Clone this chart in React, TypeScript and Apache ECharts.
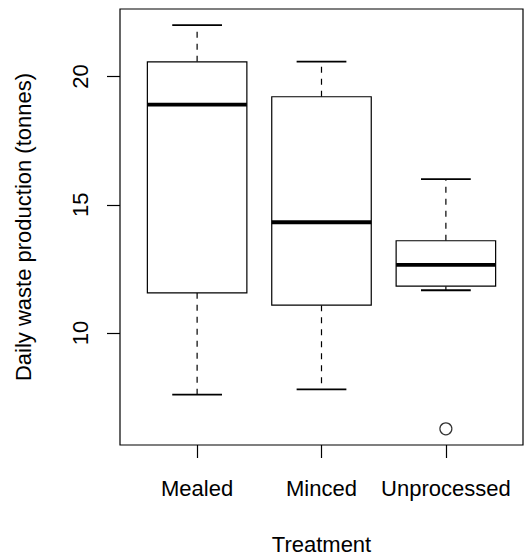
import React, { useEffect, useRef } from "react";
import * as echarts from "echarts";

const categories = ["Mealed", "Minced", "Unprocessed"];
const whiskerLow = [7.6, 7.81, 11.67];
const q1 = [11.57, 11.09, 11.83];
const median = [18.9, 14.32, 12.66];
const q3 = [20.57, 19.21, 13.6];
const whiskerHigh = [22.0, 20.58, 16.0];
const outlierCategory = ["Unprocessed"];
const outlierValue = [6.27];
const yTicks = [10, 15, 20];

const FONT = "'Liberation Sans', Arial, Helvetica, sans-serif";

export default function App() {
  const ref = useRef<HTMLDivElement>(null);
  useEffect(() => {
    document.body.style.margin = "0";
    const chart = echarts.init(ref.current!, null, { renderer: "svg" });
    const boxData = categories.map((c, i) => [
      i + 1,
      whiskerLow[i],
      q1[i],
      median[i],
      q3[i],
      whiskerHigh[i],
    ]);
    const outData = outlierCategory.map((c, i) => [
      categories.indexOf(c) + 1,
      outlierValue[i],
    ]);
    const option: any = {
      animation: false,
      backgroundColor: "#fff",
      grid: {
        left: 120,
        right: 2,
        top: 9,
        bottom: 112,
        show: true,
        borderColor: "#000",
        borderWidth: 1.2,
        backgroundColor: "transparent",
        containLabel: false,
        outerBoundsMode: "none",
      },
      xAxis: {
        type: "value",
        min: 0.38,
        max: 3.62,
        name: "Treatment",
        nameLocation: "middle",
        nameGap: 88,
        nameTextStyle: { fontSize: 22, color: "#000", fontFamily: FONT, lineHeight: 22 },
        axisLine: { show: false },
        splitLine: { show: false },
        axisTick: {
          show: true,
          inside: false,
          length: 13,
          customValues: [1, 2, 3],
          lineStyle: { color: "#000", width: 1.2 },
        },
        axisLabel: {
          customValues: [1, 2, 3],
          formatter: (v: number) => categories[Math.round(v) - 1] ?? "",
          fontSize: 22,
          lineHeight: 22,
          color: "#000",
          fontFamily: FONT,
          margin: 32,
        },
      },
      yAxis: {
        type: "value",
        min: 5.64,
        max: 22.63,
        name: "Daily waste production (tonnes)",
        nameLocation: "middle",
        nameRotate: 90,
        nameGap: 86,
        nameTextStyle: { fontSize: 22, color: "#000", fontFamily: FONT, lineHeight: 22 },
        axisLine: { show: false },
        splitLine: { show: false },
        axisTick: {
          show: true,
          inside: false,
          length: 13,
          customValues: yTicks,
          lineStyle: { color: "#000", width: 1.2 },
        },
        axisLabel: {
          customValues: yTicks,
          rotate: 90,
          fontSize: 22,
          lineHeight: 22,
          color: "#000",
          fontFamily: FONT,
          margin: 29,
        },
      },
      series: [
        {
          type: "custom",
          data: boxData,
          encode: { x: 0, y: [1, 2, 3, 4, 5] },
          renderItem: (params: any, api: any) => {
            const x = api.value(0);
            const lo = api.coord([x, api.value(1)]);
            const b1 = api.coord([x, api.value(2)]);
            const md = api.coord([x, api.value(3)]);
            const b3 = api.coord([x, api.value(4)]);
            const hi = api.coord([x, api.value(5)]);
            const w = api.size([0.8, 0])[0];
            const cx = lo[0];
            const half = w / 2;
            const cap = w / 4;
            const dash = { stroke: "#000", lineWidth: 1.2, lineDash: [6, 6] };
            return {
              type: "group",
              children: [
                {
                  type: "line",
                  shape: { x1: cx, y1: b3[1], x2: cx, y2: hi[1] },
                  style: dash,
                },
                {
                  type: "line",
                  shape: { x1: cx, y1: b1[1], x2: cx, y2: lo[1] },
                  style: dash,
                },
                {
                  type: "line",
                  shape: { x1: cx - cap, y1: hi[1], x2: cx + cap, y2: hi[1] },
                  style: { stroke: "#000", lineWidth: 1.8 },
                },
                {
                  type: "line",
                  shape: { x1: cx - cap, y1: lo[1], x2: cx + cap, y2: lo[1] },
                  style: { stroke: "#000", lineWidth: 1.8 },
                },
                {
                  type: "rect",
                  shape: { x: cx - half, y: b3[1], width: w, height: b1[1] - b3[1] },
                  style: { fill: "#fff", stroke: "#000", lineWidth: 1.2 },
                },
                {
                  type: "line",
                  shape: { x1: cx - half, y1: md[1], x2: cx + half, y2: md[1] },
                  style: { stroke: "#000", lineWidth: 3.8 },
                },
              ],
            };
          },
        },
        {
          type: "scatter",
          data: outData,
          symbol: "circle",
          symbolSize: 12,
          itemStyle: { color: "#fff", borderColor: "#000", borderWidth: 1.2 },
        },
      ],
    };
    chart.setOption(option);
    return () => chart.dispose();
  }, []);
  return <div ref={ref} style={{ width: 525, height: 557 }} />;
}
